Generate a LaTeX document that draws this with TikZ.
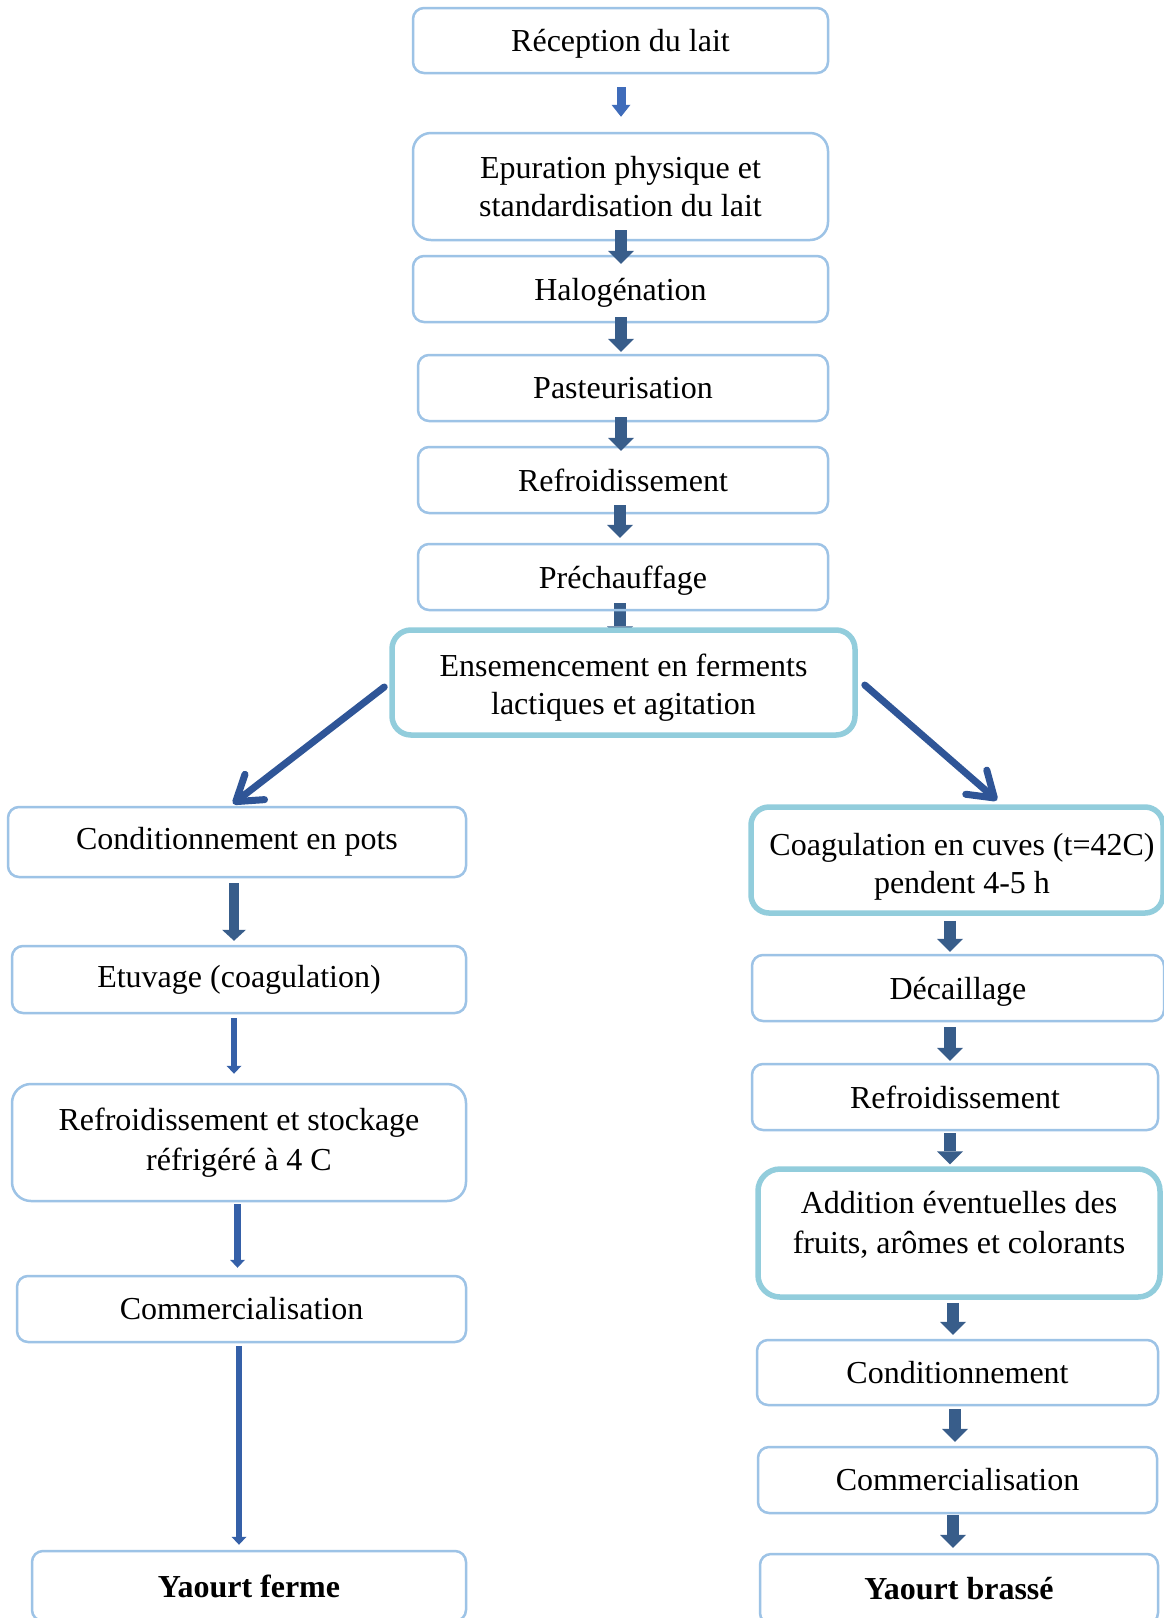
\documentclass[tikz,border=0pt]{standalone}
\usepackage{fontspec}
\setmainfont{Liberation Serif}
\usetikzlibrary{arrows.meta,calc,backgrounds}
\definecolor{boxc}{HTML}{9DC3E6}
\definecolor{tealc}{HTML}{92CDDC}
\definecolor{arrc}{HTML}{385D8A}
\definecolor{thinc}{HTML}{3560A8}
\definecolor{firstc}{HTML}{3F6CBA}
\definecolor{diagc}{HTML}{2F5597}
\begin{document}
\begin{tikzpicture}[x=1pt,y=-1pt,
  box/.style={draw=boxc, line width=2.5pt, rounded corners=11pt, align=center,
    font=\fontsize{32}{38}\selectfont, inner sep=0pt},
  one/.style={text height=22pt, text depth=0pt},
  tbox/.style={box, draw=tealc, line width=5.5pt, rounded corners=19pt},
  blk/.style={draw=arrc, line width=12pt, -{Triangle[width=26pt,length=13pt,line width=0pt]}},
  midblk/.style={draw=arrc, line width=10pt, -{Triangle[width=24pt,length=11pt,line width=0pt]}},
  firstblk/.style={draw=firstc, line width=9pt, -{Triangle[width=19pt,length=12pt,line width=0pt]}},
  thinblk/.style={draw=thinc, line width=6.5pt, -{Triangle[width=15pt,length=8pt,line width=0pt]}},
  diag/.style={draw=diagc, line width=7pt, line cap=round, -{Straight Barb[length=24pt,width=32pt,round]}}
]
\useasboundingbox (0,0) rectangle (1164,1618);
\begin{pgfonlayer}{background}
\fill[white] (0,0) rectangle (1164,1618);
\end{pgfonlayer}
\clip (0,0) rectangle (1164,1618);

% central column
\node[box, one, minimum width=415, minimum height=65] (n1) at (620.5,40.5) {Réception du lait};
\node[box, minimum width=415, minimum height=107, rounded corners=18pt] (n2) at (620.5,186.5) {Epuration physique et\\standardisation du lait};
\node[box, one, minimum width=415, minimum height=66] (n3) at (620.5,289) {Halogénation};
\node[box, minimum width=410, minimum height=66] (n4) at (623,388) {Pasteurisation};
\node[box, minimum width=410, minimum height=66] (n5) at (623,480) {Refroidissement};
\node[box, one, minimum width=410, minimum height=66] (n6) at (623,577) {Préchauffage};
\node[tbox, fill=white, minimum width=463, minimum height=105] (n7) at (623.5,682.5) {\rule{0pt}{33pt}Ensemencement en ferments\\lactiques et agitation};

% left column
\node[box, minimum width=458, minimum height=70] (l1) at (237,842) {Conditionnement en pots};
\node[box, minimum width=454, minimum height=67] (l2) at (239,979.5) {Etuvage (coagulation)};
\node[box, font=\fontsize{32}{40}\selectfont, minimum width=454, minimum height=117, rounded corners=19pt] (l3) at (239,1142.5) {Refroidissement et stockage\\réfrigéré à 4 C};
\node[box, minimum width=449, minimum height=66] (l4) at (241.5,1309) {Commercialisation};
\node[box, minimum width=434, minimum height=70] (l5) at (249,1586) {\textbf{Yaourt ferme}};

% right column
\node[tbox, minimum width=412, minimum height=106, rounded corners=18pt] (r1) at (957,860) {\hspace*{10pt}\rule{0pt}{35pt}Coagulation en cuves (t=42C)\\\hspace*{10pt}pendent 4-5 h};
\node[box, one, minimum width=412, minimum height=66] (r2) at (958,988) {Décaillage};
\node[box, minimum width=406, minimum height=66] (r3) at (955,1097) {Refroidissement};
\node[tbox, font=\fontsize{32}{40}\selectfont, minimum width=402, minimum height=128, rounded corners=22pt] (r4) at (959,1233) {Addition éventuelles des\\fruits, arômes et colorants\\[-19pt]\mbox{}};
\node[box, minimum width=401, minimum height=65] (r5) at (957.5,1372.5) {Conditionnement};
\node[box, minimum width=399, minimum height=66] (r6) at (957.5,1480) {Commercialisation};
\node[box, minimum width=398, minimum height=70] (r7) at (959,1589) {\textbf{Yaourt brassé}};

% central arrows
\draw[firstblk] ($(n1.south)+(0.5,13)$) -- ($(n2.north)+(0.5,-15)$);
\draw[blk] ($(n2.south)+(0.5,-11)$) -- ($(n3.north)+(0.5,9)$);
\draw[blk] ($(n3.south)+(0.5,-6)$) -- ($(n4.north)+(-2,-2)$);
\draw[blk] ($(n4.south)+(-2,-5)$) -- ($(n5.north)+(-2,5)$);
\draw[blk] ($(n5.south)+(-3,-9)$) -- ($(n6.north)+(-3,-5)$);
\begin{pgfonlayer}{background}
\draw[blk] ($(n6.south)+(-3,-8)$) -- ($(n7.north)+(-3.5,12)$);
\end{pgfonlayer}

% diagonal arrows
\draw[diag] ($(n7.west)+(-5,4.5)$) -- ($(l1.north)+(-4,-2)$);
\draw[diag] ($(n7.east)+(7,2.5)$) -- ($(r1.north)+(40,-4)$);

% left arrows
\draw[midblk] ($(l1.south)+(-3,5)$) -- ($(l2.north)+(-5,-4)$);
\draw[thinblk] ($(l2.south)+(-5,4)$) -- ($(l3.north)+(-5,-9)$);
\draw[thinblk] ($(l3.south)+(-1.5,2)$) -- ($(l4.north)+(-4,-7)$);
\draw[thinblk] ($(l4.south)+(-2.5,3)$) -- ($(l5.north)+(-10,-5)$);

% right arrows
\draw[blk] ($(r1.south)+(-7,5)$) -- ($(r2.north)+(-8,-2)$);
\draw[blk] ($(r2.south)+(-8,5)$) -- ($(r3.north)+(-5,-2)$);
\draw[blk] ($(r3.south)+(-5,2)$) -- ($(r4.north)+(-9,-2)$);
\draw[blk] ($(r4.south)+(-6,3)$) -- ($(r5.north)+(-4.5,-4)$);
\draw[blk] ($(r5.south)+(-2.5,3)$) -- ($(r6.north)+(-2.5,-4)$);
\draw[blk] ($(r6.south)+(-4.5,1)$) -- ($(r7.north)+(-6,-5)$);
\end{tikzpicture}
\end{document}
